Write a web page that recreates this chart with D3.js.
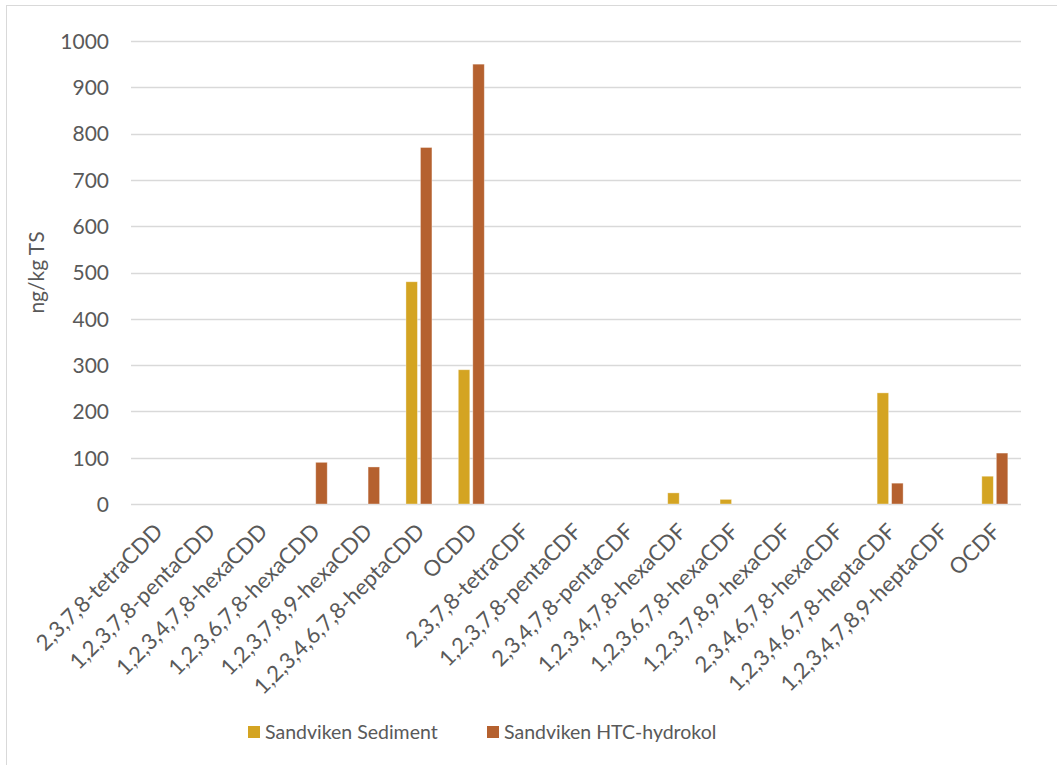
<!DOCTYPE html>
<html>
<head>
<meta charset="utf-8">
<script src="https://cdn.jsdelivr.net/npm/d3@7"></script>
<style>
  html, body { margin: 0; padding: 0; background: #fff; }
  svg { display: block; }
  text { font-family: Lato, "Open Sans", sans-serif; fill: #595959; }
</style>
</head>
<body>
<svg id="chart" width="1057" height="765"></svg>
<script>
// Congener names along the x axis
const categories = [
  "2,3,7,8-tetraCDD",
  "1,2,3,7,8-pentaCDD",
  "1,2,3,4,7,8-hexaCDD",
  "1,2,3,6,7,8-hexaCDD",
  "1,2,3,7,8,9-hexaCDD",
  "1,2,3,4,6,7,8-heptaCDD",
  "OCDD",
  "2,3,7,8-tetraCDF",
  "1,2,3,7,8-pentaCDF",
  "2,3,4,7,8-pentaCDF",
  "1,2,3,4,7,8-hexaCDF",
  "1,2,3,6,7,8-hexaCDF",
  "1,2,3,7,8,9-hexaCDF",
  "2,3,4,6,7,8-hexaCDF",
  "1,2,3,4,6,7,8-heptaCDF",
  "1,2,3,4,7,8,9-heptaCDF",
  "OCDF"
];

// Concentrations, ng/kg TS
const sediment = [0, 0, 0, 0, 0, 480, 290, 0, 0, 0, 24, 10, 0, 0, 240, 0, 60];
const hydrokol = [0, 0, 0, 90, 80, 770, 950, 0, 0, 0, 0, 0, 0, 0, 45, 0, 110];

const seriesNames = ["Sandviken Sediment", "Sandviken HTC-hydrokol"];
const yTicks = [0, 100, 200, 300, 400, 500, 600, 700, 800, 900, 1000];
const yTitle = "ng/kg TS";

const colors = ["#D4A422", "#B5612F"];

const svg = d3.select("#chart");

// outer chart frame
svg.append("rect")
  .attr("x", 6.5).attr("y", 5.5)
  .attr("width", 1100).attr("height", 800)
  .attr("fill", "none").attr("stroke", "#d9d9d9").attr("stroke-width", 1);

const plot = { left: 131, right: 1021, top: 41, bottom: 504 };

const x = d3.scaleBand()
  .domain(categories)
  .range([plot.left, plot.right])
  .paddingInner(0).paddingOuter(0);

const y = d3.scaleLinear().domain([0, 1000]).range([plot.bottom, plot.top]);

// gridlines
svg.append("g")
  .selectAll("line")
  .data(yTicks)
  .join("line")
  .attr("x1", plot.left).attr("x2", plot.right)
  .attr("y1", d => Math.round(y(d)) + 0.5)
  .attr("y2", d => Math.round(y(d)) + 0.5)
  .attr("stroke", "#d9d9d9").attr("stroke-width", 1.3);

// y axis labels
const yAxis = d3.axisLeft(y).tickValues(yTicks).tickFormat(d3.format("d")).tickSize(0).tickPadding(0);
const gy = svg.append("g").attr("transform", `translate(${plot.left - 22},0)`).call(yAxis);
gy.select(".domain").remove();
gy.selectAll("text")
  .attr("font-size", 21)
  .attr("font-family", "Lato, sans-serif")
  .attr("fill", "#595959")
  .attr("dy", "0.35em");

// y axis title
svg.append("text")
  .attr("transform", `translate(44,${(plot.top + plot.bottom) / 2}) rotate(-90)`)
  .attr("text-anchor", "middle")
  .attr("font-size", 21)
  .text(yTitle);

// bars
const barW = 11.5, gap = 3;
const series = [sediment, hydrokol];
series.forEach((vals, si) => {
  svg.append("g")
    .selectAll("rect")
    .data(vals.map((v, i) => ({ cat: categories[i], v })))
    .join("rect")
    .filter(d => d.v > 0)
    .attr("x", d => x(d.cat) + x.bandwidth() / 2 + (si === 0 ? -gap / 2 - barW : gap / 2))
    .attr("y", d => y(d.v))
    .attr("width", barW)
    .attr("height", d => y(0) - y(d.v))
    .attr("fill", colors[si])
    .attr("stroke", "#ffffff").attr("stroke-opacity", 0.45).attr("stroke-width", 0.8);
});

// x axis labels, rotated
const xAxis = d3.axisBottom(x).tickSize(0).tickPadding(0);
const gx = svg.append("g").attr("transform", `translate(0,${plot.bottom})`).call(xAxis);
gx.select(".domain").remove();
gx.selectAll("text")
  .attr("font-size", 22)
  .attr("font-family", "Lato, sans-serif")
  .attr("fill", "#595959")
  .attr("text-anchor", "end")
  .attr("dy", null)
  .attr("y", 0)
  .attr("transform", "translate(7,29) rotate(-45)");

// legend
const legend = svg.append("g");
const legendX = [248, 487];
seriesNames.forEach((name, i) => {
  legend.append("rect")
    .attr("x", legendX[i]).attr("y", 726)
    .attr("width", 12).attr("height", 12)
    .attr("fill", colors[i]);
  legend.append("text")
    .attr("x", legendX[i] + 17).attr("y", 732)
    .attr("dy", "0.35em")
    .attr("font-size", 19.5)
    .text(name);
});
</script>
</body>
</html>
